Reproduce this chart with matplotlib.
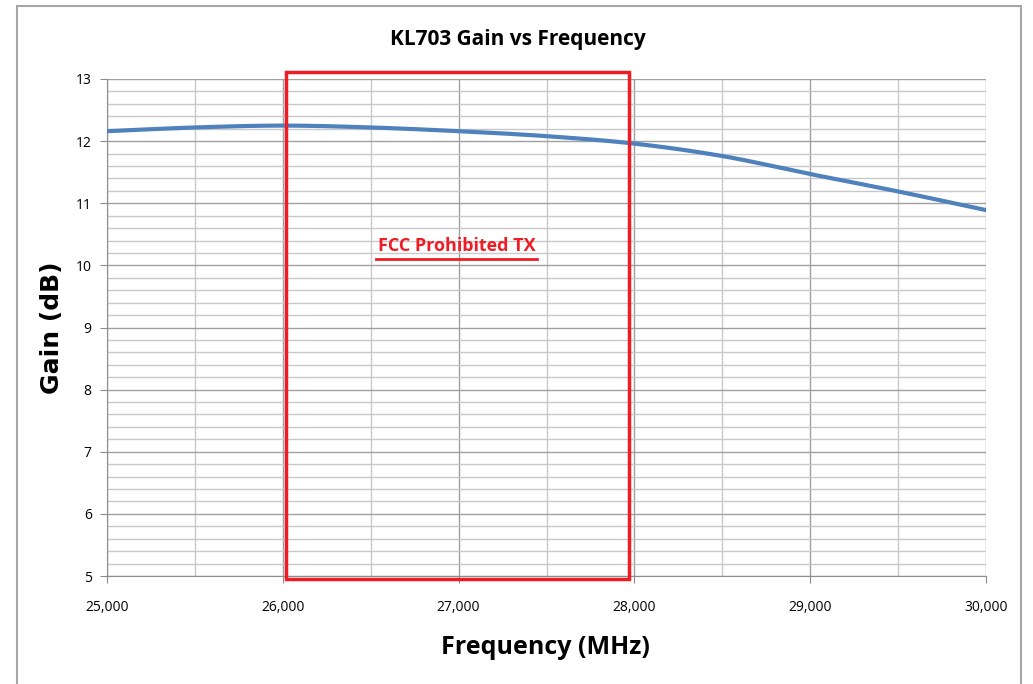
import matplotlib
matplotlib.use("Agg")
import matplotlib.pyplot as plt
from matplotlib.patches import Rectangle
from matplotlib.ticker import MultipleLocator, FuncFormatter
import numpy as np

freq_mhz = [25000, 25500, 26000, 26500, 27000, 27500, 28000, 28500, 29000, 29500, 30000]
gain_db = [12.16, 12.22, 12.25, 12.22, 12.16, 12.08, 11.96, 11.76, 11.47, 11.19, 10.89]
band_start, band_end = 26020, 27970
band_label = "FCC Prohibited TX"
title = "KL703 Gain vs Frequency"
xlabel = "Frequency (MHz)"
ylabel = "Gain (dB)"

W, H = 1033, 684
fig = plt.figure(figsize=(W / 100, H / 100), dpi=100)
fig.patch.set_facecolor("white")

# outer chart frame
fig.add_artist(Rectangle((17 / W, -0.05), (1021 - 17) / W, 1.05 - 6 / H,
                         transform=fig.transFigure, fill=False,
                         edgecolor="#a6a6a6", linewidth=1.5))

ax = fig.add_axes([107 / W, 1 - 576 / H, (986 - 107) / W, (576 - 79) / H])
ax.set_xlim(25000, 30000)
ax.set_ylim(5, 13)

ax.xaxis.set_major_locator(MultipleLocator(1000))
ax.xaxis.set_minor_locator(MultipleLocator(500))
ax.yaxis.set_major_locator(MultipleLocator(1))
ax.yaxis.set_minor_locator(MultipleLocator(0.2))
ax.grid(which="major", color="#a0a0a0", linewidth=1.0)
ax.grid(which="minor", color="#c8c8c8", linewidth=1.0)
ax.set_axisbelow(True)
for s in ["top", "right"]:
    ax.spines[s].set_visible(False)
for s in ["left", "bottom"]:
    ax.spines[s].set_color("#8c8c8c")
ax.tick_params(which="major", length=5, color="#8c8c8c", labelsize=10, pad=6)
ax.tick_params(which="minor", length=0)
ax.tick_params(axis="x", pad=12)
ax.xaxis.set_major_formatter(FuncFormatter(lambda v, p: f"{int(v):,}"))
for lab in ax.get_xticklabels() + ax.get_yticklabels():
    lab.set_fontfamily("Open Sans")

# smooth curve through points (Catmull-Rom)
xs = np.array(freq_mhz, dtype=float)
ys = np.array(gain_db, dtype=float)
xf = np.linspace(xs[0], xs[-1], 400)
def catmull(xq):
    out = []
    n = len(xs)
    for q in xq:
        i = min(max(np.searchsorted(xs, q) - 1, 0), n - 2)
        t = (q - xs[i]) / (xs[i + 1] - xs[i])
        p0 = ys[i - 1] if i > 0 else 2 * ys[i] - ys[i + 1]
        p1, p2 = ys[i], ys[i + 1]
        p3 = ys[i + 2] if i + 2 < n else 2 * ys[i + 1] - ys[i]
        out.append(0.5 * ((2 * p1) + (-p0 + p2) * t + (2 * p0 - 5 * p1 + 4 * p2 - p3) * t ** 2
                          + (-p0 + 3 * p1 - 3 * p2 + p3) * t ** 3))
    return np.array(out)
ax.plot(xf, catmull(xf), color="#4f81bd", linewidth=3, solid_capstyle="round", zorder=3)

ax.add_patch(Rectangle((band_start, 4.95), band_end - band_start, 13.11 - 4.95,
                       fill=False, edgecolor="#ee1c25", linewidth=2.5, clip_on=False, zorder=4))
ax.text(26988, 10.31, band_label, color="#ee1c25", fontsize=13, fontweight="bold",
        fontfamily="Open Sans", ha="center", va="center", zorder=5)
ax.plot([26530, 27446], [10.11, 10.11], color="#ee1c25", linewidth=2, zorder=5)

fig.text(518 / W, 1 - 40 / H, title, ha="center", va="center", fontsize=15,
         fontweight="bold", fontfamily="Open Sans")
fig.text(545 / W, 1 - 648 / H, xlabel, ha="center", va="center", fontsize=18,
         fontweight="bold", fontfamily="Open Sans")
fig.text(52 / W, 1 - 328 / H, ylabel, ha="center", va="center", fontsize=18,
         fontweight="bold", rotation=90, fontfamily="DejaVu Sans")

fig.savefig("out.png", dpi=100)
